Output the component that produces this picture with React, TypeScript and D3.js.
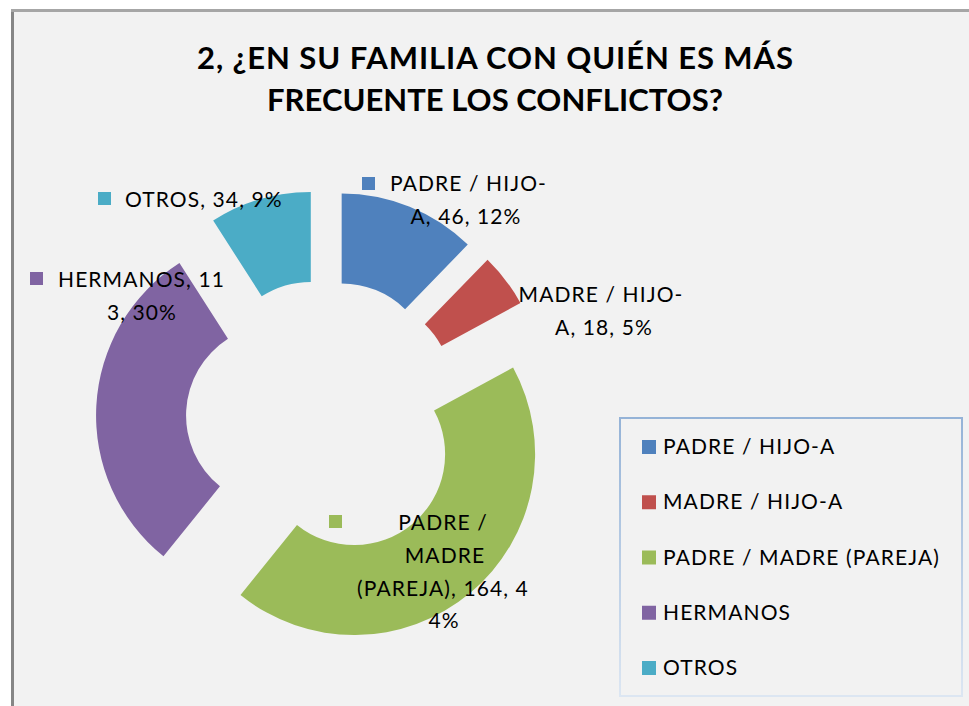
import React, { useRef, useEffect } from 'react';
import * as d3 from 'd3';

// data
const categories = ['PADRE / HIJO-A', 'MADRE / HIJO-A', 'PADRE / MADRE (PAREJA)', 'HERMANOS', 'OTROS'];
const values = [46, 18, 164, 113, 34];
const colors = ['#4F81BD', '#C0504D', '#9BBB59', '#8064A2', '#4BACC6'];
const titleLines = ['2, ¿EN SU FAMILIA CON QUIÉN ES MÁS', 'FRECUENTE LOS CONFLICTOS?'];
// where each data label wraps (char index)
const labelBreaks = [[13], [13], [7, 13, 30], [12], []];

const width = 969;
const height = 706;
const cx = 324;
const cy = 418;
const outerR = 181;
const innerR = 91;
const explode = 47;
const font = 'Lato, "Open Sans", sans-serif';
const titleWidths = [596, 456];

// label layout: marker square + lines (first line left anchored when there is a marker)
const labelLayout = [
  { sq: [362, 177], lines: [[390, 191, 'start'], [466, 224, 'middle']] },
  { sq: null, lines: [[601, 302, 'middle'], [604, 335, 'middle']] },
  { sq: [329, 515], lines: [[443, 530, 'middle'], [445, 563, 'middle'], [443, 596, 'middle'], [444, 628, 'middle']] },
  { sq: [30, 272], lines: [[58, 287, 'start'], [142, 320, 'middle']] },
  { sq: [98, 192], lines: [[125, 207, 'start']] },
];

const total = d3.sum(values);

const App = () => {
  const ref = useRef(null);

  useEffect(() => {
    const svg = d3.select(ref.current);
    svg.selectAll('*').remove();

    // chart area
    svg.append('rect').attr('width', width).attr('height', height).attr('fill', '#ffffff');
    svg.append('rect').attr('x', 11).attr('y', 9).attr('width', width).attr('height', height).attr('fill', '#a6a6a6');
    svg.append('rect').attr('x', 11).attr('y', 12).attr('width', 3).attr('height', height).attr('fill', '#868686');
    svg.append('rect').attr('x', 14).attr('y', 12).attr('width', width).attr('height', height).attr('fill', '#F2F2F2');

    // title
    svg
      .append('g')
      .selectAll('text')
      .data(titleLines)
      .enter()
      .append('text')
      .attr('x', 495)
      .attr('y', (d, i) => 69 + i * 42)
      .attr('text-anchor', 'middle')
      .attr('font-family', font)
      .attr('font-weight', 'bold')
      .attr('font-size', 31)
      .attr('textLength', (d, i) => titleWidths[i])
      .attr('fill', '#000')
      .text((d) => d);

    // donut
    const pie = d3.pie().sort(null).value((d) => d);
    const arcs = pie(values);
    const arc = d3.arc().innerRadius(innerR).outerRadius(outerR);

    svg
      .append('g')
      .attr('transform', `translate(${cx}, ${cy})`)
      .selectAll('path')
      .data(arcs)
      .enter()
      .append('path')
      .attr('fill', (d, i) => colors[i])
      .attr('transform', (d) => {
        const mid = (d.startAngle + d.endAngle) / 2;
        return `translate(${explode * Math.sin(mid)}, ${-explode * Math.cos(mid)})`;
      })
      .attr('d', arc);

    // data labels
    const labels = svg
      .append('g')
      .attr('font-family', font)
      .attr('font-size', 21)
      .attr('letter-spacing', 1.1)
      .attr('fill', '#000');
    values.forEach((v, i) => {
      const pct = Math.round((v / total) * 100);
      const full = `${categories[i]}, ${v}, ${pct}%`;
      const cuts = [0, ...labelBreaks[i], full.length];
      const lines = cuts.slice(0, -1).map((c, k) => full.slice(c, cuts[k + 1]).trim());
      const lay = labelLayout[i];
      if (lay.sq) {
        labels
          .append('rect')
          .attr('x', lay.sq[0])
          .attr('y', lay.sq[1])
          .attr('width', 13)
          .attr('height', 13)
          .attr('fill', colors[i]);
      }
      lines.forEach((t, k) => {
        const [x, y, anchor] = lay.lines[k];
        labels.append('text').attr('x', x).attr('y', y).attr('text-anchor', anchor).text(t);
      });
    });

    // legend
    const grad = svg
      .append('defs')
      .append('linearGradient')
      .attr('id', 'legBorder')
      .attr('x1', 0)
      .attr('y1', 0)
      .attr('x2', 0)
      .attr('y2', 1);
    grad.append('stop').attr('offset', '0%').attr('stop-color', '#95B3D7');
    grad.append('stop').attr('offset', '100%').attr('stop-color', '#DCE6F2');

    svg
      .append('rect')
      .attr('x', 620)
      .attr('y', 418)
      .attr('width', 342)
      .attr('height', 278)
      .attr('fill', '#F2F2F2')
      .attr('stroke', 'url(#legBorder)')
      .attr('stroke-width', 2);

    const ly = d3.scalePoint().domain(categories).range([447, 668]);
    const items = svg
      .append('g')
      .selectAll('g')
      .data(categories)
      .enter()
      .append('g')
      .attr('transform', (d) => `translate(642, ${ly(d)})`);
    items
      .append('rect')
      .attr('y', -7)
      .attr('width', 14)
      .attr('height', 14)
      .attr('fill', (d, i) => colors[i]);
    items
      .append('text')
      .attr('x', 21)
      .attr('y', 7)
      .attr('font-family', font)
      .attr('font-size', 21)
      .attr('letter-spacing', 1.1)
      .attr('fill', '#000')
      .text((d) => d);
  }, []);

  return <svg ref={ref} width={width} height={height} style={{ position: 'absolute', left: 0, top: 0 }}></svg>;
};

export default App;
